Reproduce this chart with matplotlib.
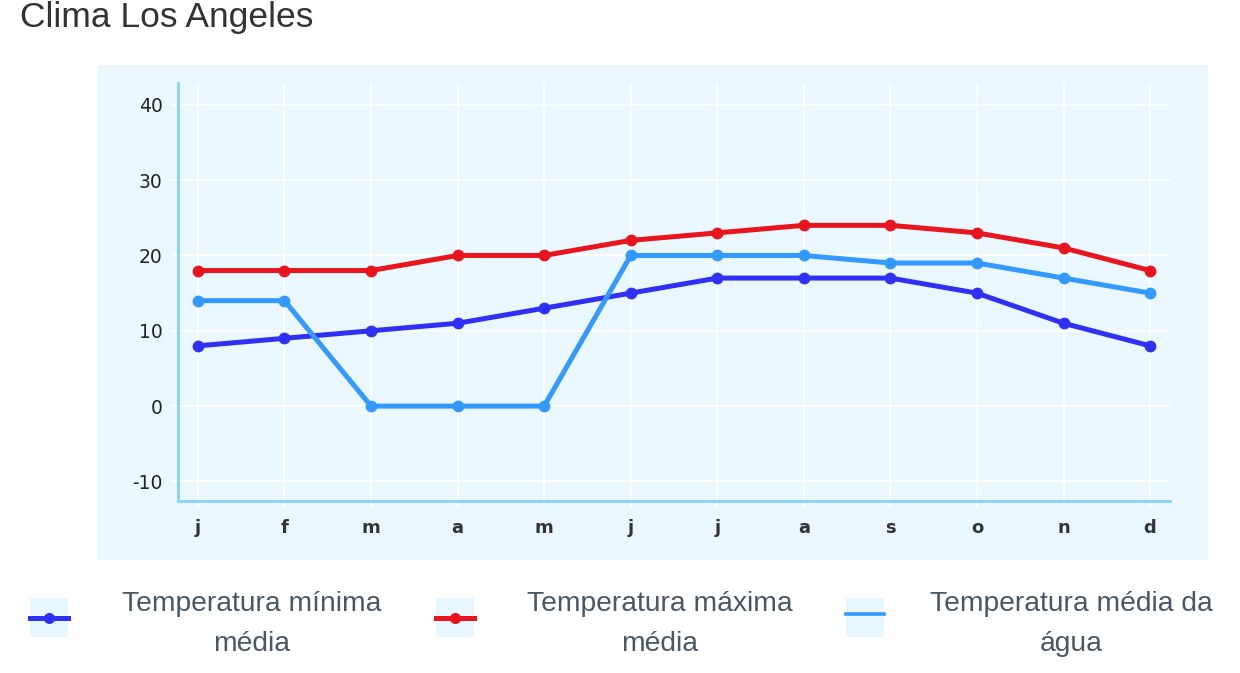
import matplotlib
matplotlib.use("Agg")
import matplotlib.pyplot as plt
from matplotlib.patches import Rectangle
from matplotlib.lines import Line2D

months = ["j", "f", "m", "a", "m", "j", "j", "a", "s", "o", "n", "d"]
temp_min = [8, 9, 10, 11, 13, 15, 17, 17, 17, 15, 11, 8]
temp_max = [18, 18, 18, 20, 20, 22, 23, 24, 24, 23, 21, 18]
temp_agua = [14, 14, 0, 0, 0, 20, 20, 20, 19, 19, 17, 15]
y_ticks = [-10, 0, 10, 20, 30, 40]
labels = ["Temperatura mínima\nmédia", "Temperatura máxima\nmédia", "Temperatura média da\nágua"]
colors = ["#3030F5", "#E8141E", "#3399FF"]

W, H = 1240, 673
fig = plt.figure(figsize=(W / 100, H / 100), dpi=100)
fig.patch.set_facecolor("white")

panel_color = "#EAF8FD"
fig.add_artist(Rectangle((98 / W, 1 - 560 / H), (1208 - 98) / W, (560 - 65) / H,
                         transform=fig.transFigure, facecolor=panel_color,
                         edgecolor="none", zorder=0))

ax = fig.add_axes([178 / W, 1 - 501 / H, (1170 - 178) / W, (501 - 83) / H])
ax.set_facecolor(panel_color)
x = list(range(len(months)))
series = [temp_min, temp_max, temp_agua]
for vals, c in zip(series, colors):
    ax.plot(x, vals, color=c, lw=3.6, marker="o", ms=7.5, zorder=3,
            solid_joinstyle="round")

ax.set_xlim(-0.23, 11.23)
ax.set_ylim(-12.6, 42.9)
ax.set_xticks(x)
ax.set_xticklabels(months, fontsize=13, fontweight="bold", color="#333333",
                   family="DejaVu Sans")
ax.set_yticks(y_ticks)
ax.set_yticklabels([str(v) for v in y_ticks], fontsize=13.5, color="#222222",
                   family="DejaVu Sans")
ax.grid(True, color="white", lw=1.2, zorder=1)
ax.tick_params(axis="both", length=5, color="white", width=1.2)
ax.tick_params(axis="y", pad=6)
ax.tick_params(axis="x", pad=8)
for s in ["top", "right"]:
    ax.spines[s].set_visible(False)
for s in ["left", "bottom"]:
    ax.spines[s].set_color("#8ED6F7")
    ax.spines[s].set_linewidth(2.2)
ax.set_axisbelow(True)

fig.text(20 / W, 1 - 27 / H, "Clima Los Angeles", fontsize=25.5, color="#333333",
         family="Liberation Sans", va="baseline", ha="left")

# legend
box_x = [30, 436, 846]
text_cx = [252, 660, 1071]
for i, (lab, c) in enumerate(zip(labels, colors)):
    bx = box_x[i]
    fig.add_artist(Rectangle((bx / W, 1 - 637 / H), 38 / W, 39 / H,
                             transform=fig.transFigure, facecolor="#E8F6FD",
                             edgecolor="none"))
    ly = 618 if i < 2 else 614
    if i < 2:
        fig.add_artist(Line2D([bx / W, (bx + 38) / W], [1 - ly / H, 1 - ly / H],
                              transform=fig.transFigure, color=c, lw=3.6,
                              marker=None))
        fig.add_artist(Line2D([(bx + 19) / W], [1 - ly / H],
                              transform=fig.transFigure, color=c, marker="o",
                              ms=7, lw=0))
    else:
        fig.add_artist(Line2D([bx / W, (bx + 38) / W], [1 - ly / H, 1 - ly / H],
                              transform=fig.transFigure, color=c, lw=2.6))
    first, second = lab.split("\n")
    fig.text(text_cx[i] / W, 1 - 604 / H, first, fontsize=20.3, color="#4A5866",
             family="Liberation Sans", ha="center", va="center")
    fig.text(text_cx[i] / W, 1 - 644 / H, second, fontsize=20.3, color="#4A5866",
             family="Liberation Sans", ha="center", va="center")

fig.savefig("out.png", dpi=100, facecolor="white")
